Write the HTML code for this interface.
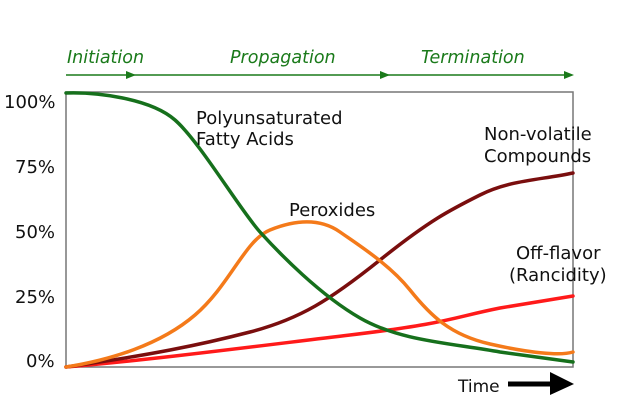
<!DOCTYPE html>
<html><head><style>body{margin:0;background:#fff}svg{display:block}text{font-family:"DejaVu Sans",Verdana,sans-serif;font-size:18px;fill:#111}</style></head><body>
<svg width="640" height="416" viewBox="0 0 640 416">
<g fill="#1a7a1a" stroke="none">
<text x="67" y="63" style="fill:#1a7a1a;font-style:italic;font-size:17.5px">Initiation</text>
<text x="230" y="63" style="fill:#1a7a1a;font-style:italic;font-size:17.5px">Propagation</text>
<text x="421" y="63" style="fill:#1a7a1a;font-style:italic;font-size:17.5px">Termination</text>
<line x1="66" y1="75" x2="570" y2="75" stroke="#1a7a1a" stroke-width="1.5"/>
<polygon points="126,71 136,75 126,79"/>
<polygon points="380,71 390,75 380,79"/>
<polygon points="564,71 574,75 564,79"/>
</g>
<rect x="66" y="92" width="507" height="275" fill="none" stroke="#777" stroke-width="1.5"/>
<text x="4" y="108">100%</text>
<text x="15" y="173">75%</text>
<text x="15" y="238">50%</text>
<text x="15" y="303">25%</text>
<text x="26" y="367">0%</text>
<g fill="none" stroke-width="3.5" stroke-linecap="round" stroke-linejoin="round">
<path stroke="#ff1a1a" d="M66,367 C150,360 250,347 350,335 S450,318 500,308 L573,296"/>
<path stroke="#7a0e0e" d="M66,367 C150,355 200,345 250,332 S330,300 380,260 S450,210 480,195 S540,180 573,173"/>
<path stroke="#f47a1a" d="M66,367 C110,360 160,345 195,315 S245,240 270,230 S320,218 340,232 S390,265 410,290 S450,335 490,344 S560,356 573,352"/>
<path stroke="#16701c" d="M66,93 C95,92 150,98 175,120 S240,210 260,232 S320,295 360,318 S450,343 500,352 L573,362"/>
</g>
<text x="196" y="124">Polyunsaturated</text>
<text x="196" y="145">Fatty Acids</text>
<text x="289" y="216">Peroxides</text>
<text x="484" y="140">Non-volatile</text>
<text x="484" y="162">Compounds</text>
<text x="516" y="259">Off-flavor</text>
<text x="509" y="281">(Rancidity)</text>
<text x="458" y="392" style="font-size:17px">Time</text>
<line x1="508" y1="384" x2="552" y2="384" stroke="#000" stroke-width="5"/>
<polygon points="550,372 574,384 550,395" fill="#000"/>
</svg>
</body></html>
